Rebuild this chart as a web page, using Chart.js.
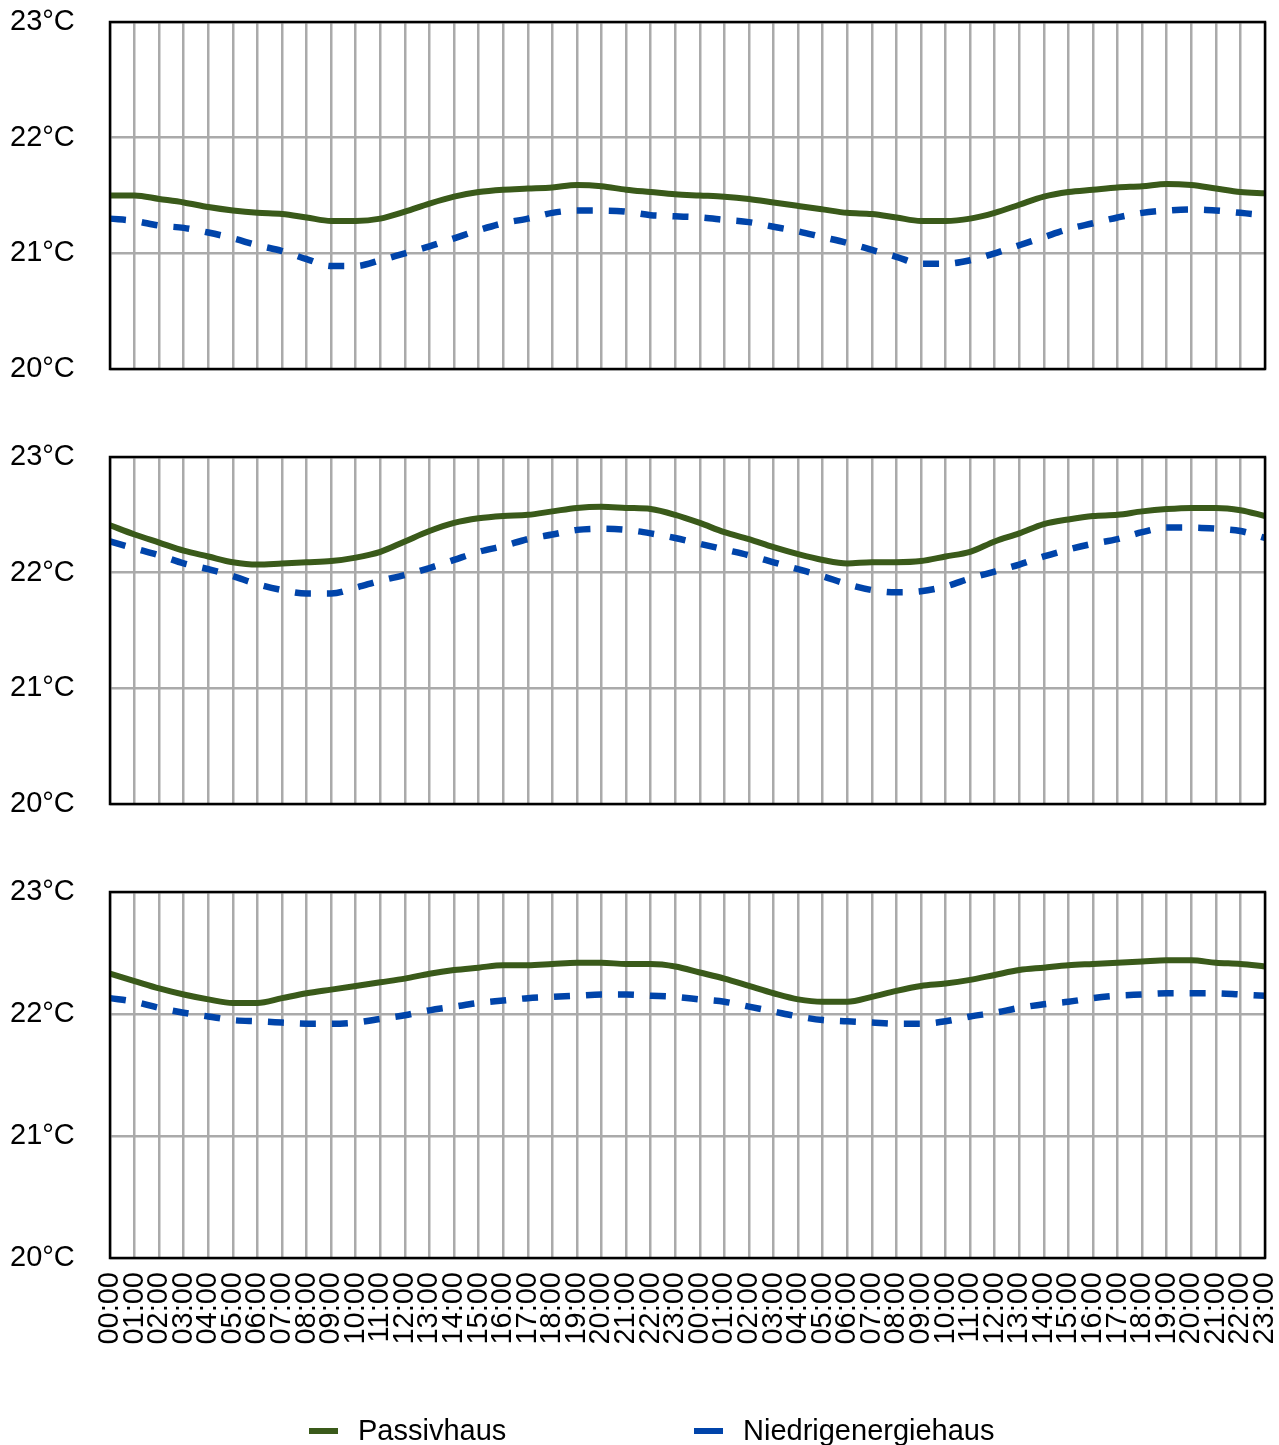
<!DOCTYPE html>
<html>
<head>
<meta charset="utf-8">
<title>Raumtemperatur Passivhaus / Niedrigenergiehaus</title>
<script src="https://cdn.jsdelivr.net/npm/chart.js@4.4.1/dist/chart.umd.min.js"></script>
<style>
  html, body { margin: 0; padding: 0; background: #fff; overflow: hidden; }
  canvas { position: absolute; left: 0; display: block; }
</style>
</head>
<body>
<canvas id="panel1" width="1279" height="400" style="top:0px"></canvas>
<canvas id="panel2" width="1279" height="400" style="top:435px"></canvas>
<canvas id="panel3" width="1279" height="575" style="top:870px"></canvas>
<script>
// Hour labels for one day; the x axis shows two consecutive days
const hourLabels = ['00:00','01:00','02:00','03:00','04:00','05:00','06:00','07:00',
  '08:00','09:00','10:00','11:00','12:00','13:00','14:00','15:00',
  '16:00','17:00','18:00','19:00','20:00','21:00','22:00','23:00'];
const timeLabels = hourLabels.concat(hourLabels);

const seriesNames = ['Passivhaus', 'Niedrigenergiehaus'];

// Y axis range (°C)
const yMin = 20;
const yMax = 23;

// Panel 1
const passiv1 = [21.50,21.50,21.47,21.44,21.40,21.37,21.35,21.34,21.31,21.28,21.28,21.30,
  21.36,21.43,21.49,21.53,21.55,21.56,21.57,21.59,21.58,21.55,21.53,21.51,
  21.50,21.49,21.47,21.44,21.41,21.38,21.35,21.34,21.31,21.28,21.28,21.30,
  21.35,21.42,21.49,21.53,21.55,21.57,21.58,21.60,21.59,21.56,21.53,21.52];
const niedrig1 = [21.30,21.28,21.24,21.22,21.18,21.13,21.07,21.02,20.95,20.89,20.89,20.94,
  21.00,21.06,21.13,21.20,21.26,21.30,21.35,21.37,21.37,21.36,21.33,21.32,
  21.31,21.29,21.27,21.23,21.19,21.14,21.09,21.03,20.97,20.91,20.91,20.94,
  21.00,21.07,21.14,21.21,21.26,21.31,21.35,21.37,21.38,21.37,21.35,21.33];

// Panel 2
const passiv2 = [22.41,22.33,22.26,22.19,22.14,22.09,22.07,22.08,22.09,22.10,22.13,22.18,
  22.27,22.36,22.43,22.47,22.49,22.50,22.53,22.56,22.57,22.56,22.55,22.50,
  22.43,22.35,22.29,22.22,22.16,22.11,22.08,22.09,22.09,22.10,22.14,22.18,
  22.27,22.34,22.42,22.46,22.49,22.50,22.53,22.55,22.56,22.56,22.54,22.49];
const niedrig2 = [22.27,22.21,22.15,22.08,22.03,21.97,21.90,21.85,21.82,21.82,21.87,21.93,
  21.98,22.04,22.11,22.18,22.23,22.29,22.33,22.37,22.38,22.37,22.34,22.30,
  22.25,22.20,22.15,22.09,22.03,21.97,21.90,21.85,21.83,21.84,21.88,21.95,
  22.01,22.07,22.14,22.20,22.25,22.29,22.35,22.39,22.39,22.38,22.36,22.30];

// Panel 3
const passiv3 = [22.33,22.27,22.21,22.16,22.12,22.09,22.09,22.13,22.17,22.20,22.23,22.26,
  22.29,22.33,22.36,22.38,22.40,22.40,22.41,22.42,22.42,22.41,22.41,22.39,
  22.34,22.29,22.23,22.17,22.12,22.10,22.10,22.14,22.19,22.23,22.25,22.28,
  22.32,22.36,22.38,22.40,22.41,22.42,22.43,22.44,22.44,22.42,22.41,22.39];
const niedrig3 = [22.13,22.10,22.05,22.01,21.98,21.95,21.94,21.93,21.92,21.92,21.93,21.96,
  21.99,22.03,22.06,22.09,22.11,22.13,22.14,22.15,22.16,22.16,22.15,22.14,
  22.12,22.10,22.06,22.02,21.98,21.95,21.94,21.93,21.92,21.92,21.94,21.98,
  22.01,22.05,22.08,22.10,22.13,22.15,22.16,22.17,22.17,22.17,22.16,22.15];

const GREEN = '#3a5a1a';
const BLUE = '#0044aa';
const GRID = '#aaaaaa';
const FONT = { family: '"Liberation Sans", Arial, Helvetica, sans-serif', size: 29 };

// Black frame around each plot area
const framePlugin = {
  id: 'frame',
  afterDatasetsDraw(chart) {
    const { ctx, chartArea: a } = chart;
    ctx.save();
    ctx.strokeStyle = '#000';
    ctx.lineWidth = 2.5;
    ctx.strokeRect(a.left, a.top, a.right - a.left, a.bottom - a.top);
    ctx.restore();
  }
};

// Legend row below the last panel: short line marker followed by the series name
const legendRowPlugin = {
  id: 'legendRow',
  afterDraw(chart, args, opts) {
    const { ctx } = chart;
    ctx.save();
    ctx.font = FONT.size + 'px ' + FONT.family;
    ctx.textBaseline = 'middle';
    ctx.textAlign = 'left';
    chart.data.datasets.forEach((ds, i) => {
      const x = opts.startX + i * opts.step;
      ctx.fillStyle = ds.borderColor;
      ctx.fillRect(x, opts.y - 3, 29, 6);
      ctx.fillStyle = '#000';
      ctx.fillText(ds.label, x + 49, opts.y + 1);
    });
    ctx.restore();
  }
};

function buildDatasets(passiv, niedrig) {
  return [
    {
      label: seriesNames[0],
      data: passiv,
      borderColor: GREEN,
      backgroundColor: GREEN,
      borderWidth: 6,
      pointRadius: 0,
      cubicInterpolationMode: 'monotone',
      fill: false
    },
    {
      label: seriesNames[1],
      data: niedrig,
      borderColor: BLUE,
      backgroundColor: BLUE,
      borderWidth: 6.5,
      borderDash: [16, 16],
      borderCapStyle: 'butt',
      pointRadius: 0,
      cubicInterpolationMode: 'monotone',
      fill: false
    }
  ];
}

function buildOptions(showTimeAxis) {
  return {
    responsive: false,
    animation: false,
    events: [],
    layout: { padding: { left: 10, right: 14, top: 22, bottom: showTimeAxis ? 0 : 31 } },
    plugins: {
      legend: { display: false },
      tooltip: { enabled: false },
      legendRow: showTimeAxis ? { startX: 309, step: 385, y: 561 } : false
    },
    scales: {
      x: {
        grid: { color: GRID, lineWidth: 2.5, drawTicks: false },
        border: { display: false },
        ticks: {
          display: showTimeAxis,
          autoSkip: false,
          minRotation: 90,
          maxRotation: 90,
          padding: 14,
          color: '#000',
          font: FONT
        },
        afterFit(scale) {
          scale.height = showTimeAxis ? 187 : 0;
          scale.paddingLeft = 0;
          scale.paddingRight = 0;
        }
      },
      y: {
        min: yMin,
        max: yMax,
        grid: { color: GRID, lineWidth: 2.5, drawTicks: false },
        border: { display: false },
        ticks: {
          stepSize: 1,
          crossAlign: 'far',
          padding: 0,
          color: '#000',
          font: FONT,
          callback: (v) => v + '°C'
        },
        afterFit(scale) {
          scale.width = 100;
        }
      }
    }
  };
}

const panels = [
  { id: 'panel1', passiv: passiv1, niedrig: niedrig1, showTimeAxis: false },
  { id: 'panel2', passiv: passiv2, niedrig: niedrig2, showTimeAxis: false },
  { id: 'panel3', passiv: passiv3, niedrig: niedrig3, showTimeAxis: true }
];

panels.forEach((p) => {
  new Chart(document.getElementById(p.id), {
    type: 'line',
    data: { labels: timeLabels, datasets: buildDatasets(p.passiv, p.niedrig) },
    options: buildOptions(p.showTimeAxis),
    plugins: p.showTimeAxis ? [framePlugin, legendRowPlugin] : [framePlugin]
  });
});
</script>
</body>
</html>
